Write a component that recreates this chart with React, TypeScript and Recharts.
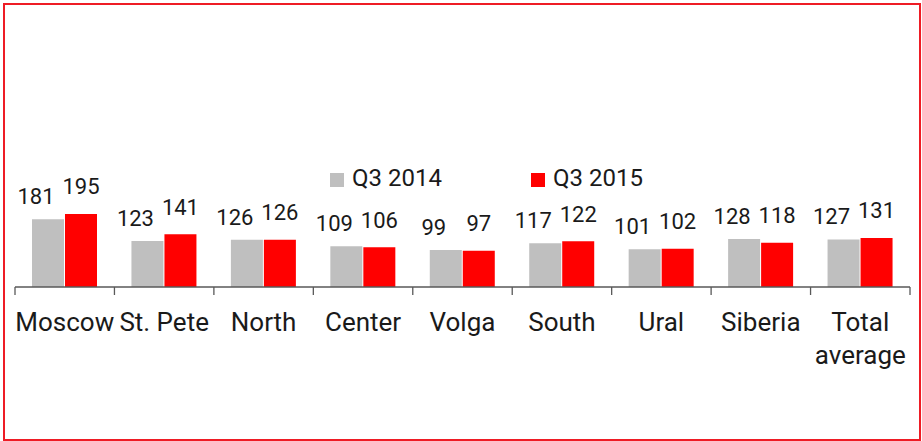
import React from "react";
import { BarChart, Bar, XAxis, YAxis, Legend, LabelList } from "recharts";

const regions = ["Moscow", "St. Pete", "North", "Center", "Volga", "South", "Ural", "Siberia", "Total average"];
const q3_2014 = [181, 123, 126, 109, 99, 117, 101, 128, 127];
const q3_2015 = [195, 141, 126, 106, 97, 122, 102, 118, 131];
const seriesNames = ["Q3 2014", "Q3 2015"];

const data = regions.map((name, i) => ({ name, a: q3_2014[i], b: q3_2015[i] }));

const W = 922;
const H = 441;
const MARGIN = { top: 62, right: 12, bottom: 124, left: 15 };
const BAND = (W - MARGIN.left - MARGIN.right) / regions.length;
const FONT = "Roboto, 'Liberation Sans', sans-serif";
const INK = "#1a1a1a";
const AXIS = "#595959";
const GRAY = "#BFBFBF";
const RED = "#FF0000";
const TICK_SIZE = 26;

// greedy word wrap measured on a canvas
function wrap(label: string, maxWidth: number): string[] {
  const ctx = document.createElement("canvas").getContext("2d");
  if (!ctx) return [label];
  ctx.font = `${TICK_SIZE}px ${FONT}`;
  const words = label.split(" ");
  const lines: string[] = [];
  let cur = "";
  words.forEach((w) => {
    const next = cur ? cur + " " + w : w;
    if (cur && ctx.measureText(next).width > maxWidth) {
      lines.push(cur);
      cur = w;
    } else {
      cur = next;
    }
  });
  if (cur) lines.push(cur);
  return lines;
}

// ticks sit on the category borders, Excel style
function RegionTick(props: any) {
  const { x, y, payload, index } = props;
  const half = BAND / 2;
  const lines = wrap(String(payload.value), BAND);
  return (
    <g>
      <line x1={x - half} y1={y} x2={x - half} y2={y + 8} stroke={AXIS} strokeWidth={1.3} />
      {index === regions.length - 1 && (
        <line x1={x + half} y1={y} x2={x + half} y2={y + 8} stroke={AXIS} strokeWidth={1.3} />
      )}
      <text x={x} y={y + 43.5} textAnchor="middle" fontFamily={FONT} fontSize={TICK_SIZE} fill={INK}>
        {lines.map((l, i) => (
          <tspan key={i} x={x} dy={i === 0 ? 0 : 33}>
            {l}
          </tspan>
        ))}
      </text>
    </g>
  );
}

const valueLabel = (gap: number, shift: number) => (p: any) => (
  <text
    x={p.x + p.width / 2 + shift}
    y={p.y - gap}
    textAnchor="middle"
    fontFamily={FONT}
    fontSize={22}
    fill={INK}
  >
    {p.value}
  </text>
);

function LegendBox({ payload }: any) {
  return (
    <div style={{ display: "flex", fontFamily: FONT, fontSize: 24, lineHeight: "28px", color: INK }}>
      {(payload || []).map((e: any, i: number) => (
        <div key={i} style={{ display: "flex", alignItems: "flex-start", width: i === 0 ? 201 : "auto" }}>
          <span style={{ width: 14, height: 14, background: e.color, marginTop: 9, marginRight: 8, display: "inline-block" }} />
          <span>{e.value}</span>
        </div>
      ))}
    </div>
  );
}

export default function App() {
  return (
    <div style={{ position: "absolute", left: 0, top: 0, width: W, height: H, background: "#fff" }}>
      <BarChart width={W} height={H} data={data} margin={MARGIN} barGap={1} barSize={32}>
        <YAxis hide domain={[0, 600]} />
        <XAxis
          dataKey="name"
          height={30}
          interval={0}
          tickSize={0}
          tickMargin={0}
          axisLine={{ stroke: AXIS, strokeWidth: 1.5 }}
          tick={<RegionTick />}
        />
        <Legend
          layout="horizontal"
          align="center"
          verticalAlign="middle"
          content={<LegendBox />}
          wrapperStyle={{ left: 330, top: 164, width: "auto" }}
        />
        <Bar dataKey="a" name={seriesNames[0]} fill={GRAY} isAnimationActive={false}>
          <LabelList dataKey="a" content={valueLabel(15, -12)} />
        </Bar>
        <Bar dataKey="b" name={seriesNames[1]} fill={RED} isAnimationActive={false}>
          <LabelList dataKey="b" content={valueLabel(19.5, 0)} />
        </Bar>
      </BarChart>
      <div
        style={{
          position: "absolute",
          left: 3,
          top: 3,
          width: 918,
          height: 438,
          boxSizing: "border-box",
          border: "2px solid #EE1C25",
          pointerEvents: "none",
        }}
      />
    </div>
  );
}
